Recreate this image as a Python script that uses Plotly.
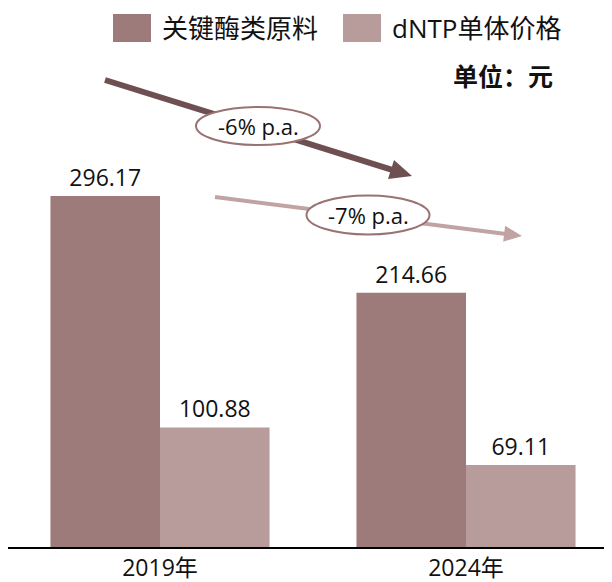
import math
import plotly.graph_objects as go

years = ["2019年", "2024年"]
enzyme = [296.17, 214.66]
dntp = [100.88, 69.11]
series_names = ["关键酶类原料", "dNTP单体价格"]
cagr_labels = ["-6% p.a.", "-7% p.a."]
unit_label = "单位：元"

OFF = 8  # page body margin
W, H = 612 - OFF, 582 - OFF
L_M, R_M, T_M, B_M = 0, 0, 0, 35
PW = W - L_M - R_M
PH = H - T_M - B_M

DARK = "#9E7B7B"
LIGHT = "#B89B9B"
DARK_ARROW = "#6E5052"
LIGHT_ARROW = "#C2A3A3"
ELLIPSE_LINE = "#9A7272"
FONT = "Open Sans, Noto Sans CJK SC, sans-serif"


def p(px, py):
    fx, fy = px - OFF, py - OFF
    return (fx - L_M) / PW, (PH + T_M - fy) / PH


xpos = list(range(len(years)))
fig = go.Figure()
fig.add_trace(go.Bar(x=xpos, y=enzyme, name=series_names[0], marker_color=DARK,
                     marker_line_width=0, text=[f"{v:.2f}" for v in enzyme],
                     textposition="outside", cliponaxis=False,
                     textfont=dict(size=23, color="#111111", family=FONT)))
fig.add_trace(go.Bar(x=xpos, y=dntp, name=series_names[1], marker_color=LIGHT,
                     marker_line_width=0, text=[f"{v:.2f}" for v in dntp],
                     textposition="outside", cliponaxis=False,
                     textfont=dict(size=23, color="#111111", family=FONT)))

shapes = []


def arrow(x0, y0, x1, y1, width, hl, hh, color):
    dx, dy = x1 - x0, y1 - y0
    Ln = math.hypot(dx, dy)
    ux, uy = dx / Ln, dy / Ln
    bx, by = x1 - ux * hl, y1 - uy * hl
    nx, ny = -uy, ux
    a = p(x0, y0)
    b = p(bx + ux * 2, by + uy * 2)
    shapes.append(dict(type="line", xref="paper", yref="paper", x0=a[0], y0=a[1],
                       x1=b[0], y1=b[1], line=dict(color=color, width=width)))
    t = p(x1, y1)
    c1 = p(bx + nx * hh, by + ny * hh)
    c2 = p(bx - nx * hh, by - ny * hh)
    shapes.append(dict(type="path", xref="paper", yref="paper",
                       path=f"M {t[0]} {t[1]} L {c1[0]} {c1[1]} L {c2[0]} {c2[1]} Z",
                       fillcolor=color, line=dict(width=0)))


arrow(105, 80, 412, 176, 6, 22, 10, DARK_ARROW)
arrow(215, 197, 522, 236, 4, 18, 8, LIGHT_ARROW)


def ellipse(cx, cy, w, h):
    a = p(cx - w / 2, cy - h / 2)
    b = p(cx + w / 2, cy + h / 2)
    shapes.append(dict(type="circle", xref="paper", yref="paper", x0=a[0], y0=b[1],
                       x1=b[0], y1=a[1], fillcolor="white",
                       line=dict(color=ELLIPSE_LINE, width=2)))


ellipse(258, 126, 124, 38)
ellipse(368, 215, 123, 39)

# legend swatches
for (x0, c) in [(113, DARK), (343, LIGHT)]:
    a = p(x0, 14)
    b = p(x0 + 38, 42)
    shapes.append(dict(type="rect", xref="paper", yref="paper", x0=a[0], y0=b[1],
                       x1=b[0], y1=a[1], fillcolor=c, line=dict(width=0)))

annotations = []
for (cx, cy), txt in zip([(258, 126), (368, 215)], cagr_labels):
    q = p(cx, cy)
    annotations.append(dict(xref="paper", yref="paper", x=q[0], y=q[1], text=txt,
                            showarrow=False, xanchor="center", yanchor="middle",
                            font=dict(size=22, color="#111111", family=FONT)))
for (lx, txt) in [(160, series_names[0]), (390, series_names[1])]:
    q = p(lx, 28)
    annotations.append(dict(xref="paper", yref="paper", x=q[0], y=q[1], text=txt,
                            showarrow=False, xanchor="left", yanchor="middle",
                            font=dict(size=26, color="#111111", family=FONT)))
q = p(555, 76)
annotations.append(dict(xref="paper", yref="paper", x=q[0], y=q[1],
                        text=f"<b>{unit_label}</b>", showarrow=False,
                        xanchor="right", yanchor="middle",
                        font=dict(size=25, color="#111111", family=FONT)))

scale = 1.185  # px per unit
x0 = -(160 - OFF) / 306
fig.update_layout(
    width=W, height=H, margin=dict(l=L_M, r=R_M, t=T_M, b=B_M),
    paper_bgcolor="white", plot_bgcolor="white",
    barmode="group", bargap=0.284, bargroupgap=0,
    showlegend=False,
    shapes=shapes, annotations=annotations,
    font=dict(family=FONT, color="#111111"),
)
fig.update_xaxes(tickvals=xpos, ticktext=years, range=[x0, x0 + PW / 306],
                 showline=True, linecolor="black", linewidth=1.5, showgrid=False,
                 zeroline=False, ticks="", tickfont=dict(size=23, family=FONT, color="#111111"))
fig.update_yaxes(visible=False, range=[0, PH / scale], showgrid=False, zeroline=False)

fig.write_html("out.html")
